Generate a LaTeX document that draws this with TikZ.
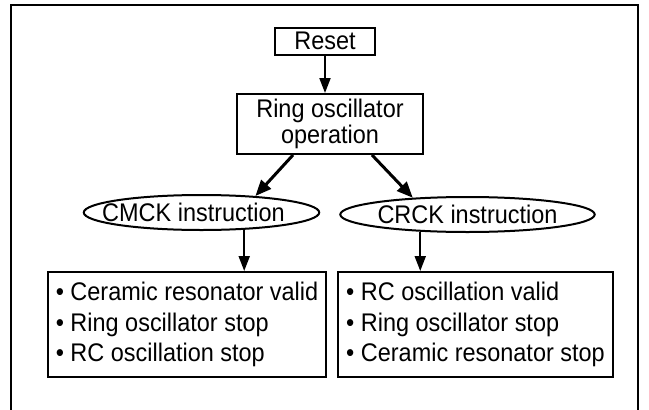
\documentclass[tikz,border=0pt]{standalone}
\usepackage{fontspec}
\setmainfont{Liberation Sans}[FakeStretch=0.92]
\usetikzlibrary{shapes.geometric,arrows.meta}
\begin{document}
\begin{tikzpicture}[x=1pt,y=-1pt,
  box/.style={draw,line width=2pt,rectangle,inner sep=0pt},
  txt/.style={font=\fontsize{25.5}{26}\selectfont},
  listtxt/.style={font=\fontsize{25.5}{30.5}\selectfont},
  arr/.style={line width=2pt,-{Triangle[length=15pt,width=11pt]}},
  darr/.style={line width=3pt,-{Triangle[length=16pt,width=13pt]}},
  oval/.style={draw,ellipse,line width=2pt,inner sep=0pt},
  listbox/.style={box,anchor=north west,minimum width=278pt,minimum height=105pt,inner xsep=4pt,align=left,listtxt}]
\useasboundingbox (0,0) rectangle (649,410);
\draw[line width=2.5pt] (11,415) -- (11,5) -- (638,5) -- (638,415);
\node[box,minimum width=100pt,minimum height=27pt,txt] (reset) at (325,41) {Reset};
\node[box,minimum width=186pt,minimum height=60pt,txt,align=center] (ring) at (330,124) {Ring oscillator\\operation};
\node[oval,minimum width=223pt,minimum height=35pt,txt] (cmck) at (201.5,212.5) {\hspace*{-16pt}CMCK instruction};
\node[oval,minimum width=225pt,minimum height=35pt,txt] (crck) at (467.5,214.5) {CRCK instruction};
\node[listbox] (lbox) at (47,271) {• Ceramic resonator valid\\• Ring oscillator stop\\• RC oscillation stop};
\node[listbox,minimum width=275pt] (rbox) at (337,271) {• RC oscillation valid\\• Ring oscillator stop\\• Ceramic resonator stop};
\draw[arr] (reset.south) -- (reset.south |- ring.north);
\draw[darr] ([xshift=-37pt]ring.south) -- (cmck.17);
\draw[darr] ([xshift=42pt]ring.south) -- (crck.163);
\draw[arr] (cmck.-22) -- (cmck.-22 |- lbox.north);
\draw[arr] (crck.200) -- (crck.200 |- rbox.north);
\end{tikzpicture}
\end{document}
